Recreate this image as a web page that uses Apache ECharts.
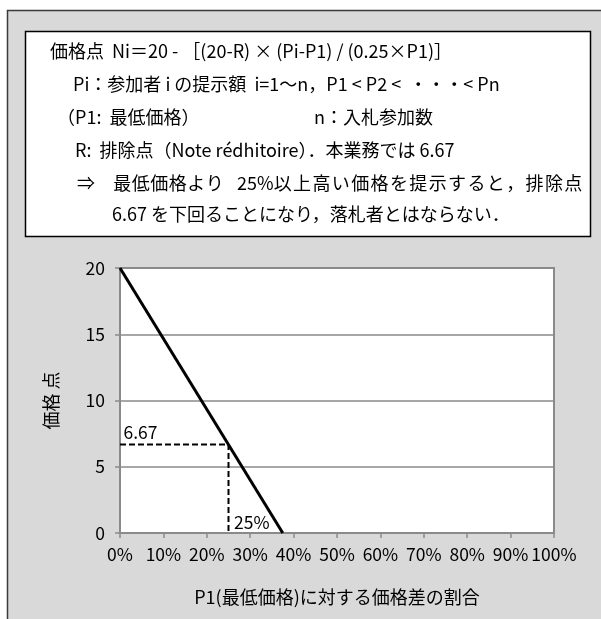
<!DOCTYPE html>
<html>
<head>
<meta charset="utf-8">
<script src="https://cdn.jsdelivr.net/npm/echarts@6/dist/echarts.min.js"></script>
<style>
html,body{margin:0;padding:0;background:#fff;}
#c{width:601px;height:619px;}
</style>
</head>
<body>
<div id="c"></div>
<script>
// ---- data ----
const lineX = [0, 0.375];          // 価格差の割合
const lineY = [20, 0];             // 価格点
const refX = [0, 0.25, 0.25];      // 排除点 guide (dashed)
const refY = [6.67, 6.67, 0];
const refLabels = ['6.67', '', '25%'];
const xTickLabels = ['0%','10%','20%','30%','40%','50%','60%','70%','80%','90%','100%'];
const yTickLabels = ['0','5','10','15','20'];
const boxLines = [
  '価格点  Ni＝20 - ［(20-R) × (Pi-P1) / (0.25×P1)］',
  'Pi：参加者 i の提示額  i=1〜n，P1 < P2 <  ・・・< Pn',
  '（P1:  最低価格）',
  'n：入札参加数',
  'R:  排除点（Note rédhitoire）．本業務では 6.67',
  '⇒',
  '25%',
  '6.67 を下回ることになり，落札者とはならない．'
];
// justified pieces of the wrapped line (each char spread over a span)
const spreadPieces = [
  {text:'最低価格より', x0:113, x1:224, y:183},
  {text:'以上高い価格を提示すると，排除点', x0:273, x1:583, y:183}
];
const xAxisName = 'P1(最低価格)に対する価格差の割合';
const yAxisName = '価格 点';

const FONT = '"Noto Sans CJK JP", sans-serif';
const FS = 18;
const chart = echarts.init(document.getElementById('c'), null, {renderer:'canvas'});

const textPos = [
  [50,51,'left'],[73,84,'left'],[57,117,'left'],[433,117,'right'],[75,150,'left'],
  [77,183,'left'],[237,183,'left'],[112,214,'left']
];
const texts = boxLines.map((t,i)=>({
  type:'text', x:textPos[i][0], y:textPos[i][1], z:5,
  style:{text:t, fill:'#000', font:FS+'px ' + FONT, verticalAlign:'middle', align:textPos[i][2]}
}));
spreadPieces.forEach(p=>{
  const chars = Array.from(p.text);
  const pitch = (p.x1 - p.x0) / chars.length;
  chars.forEach((ch,k)=>{
    texts.push({type:'text', x:p.x0 + pitch*k + pitch/2, y:p.y, z:5,
      style:{text:ch, fill:'#000', font:FS+'px ' + FONT, verticalAlign:'middle', align:'center'}});
  });
});

chart.setOption({
  backgroundColor:'#fff',
  animation:false,
  graphic:[
    {type:'rect', z:-10, shape:{x:7.5,y:10.5,width:620,height:640},
     style:{fill:'#d9d9d9', stroke:'#3a3a3a', lineWidth:1.5}},
    {type:'rect', z:-5, shape:{x:25.5,y:31.5,width:565,height:205},
     style:{fill:'#fff', stroke:'#000', lineWidth:1.5}},
    ...texts
  ],
  grid:{left:120, right:47, top:268, bottom:86, show:true, backgroundColor:'#fff',
        borderColor:'#8a8a8a', borderWidth:2},
  xAxis:{
    type:'value', min:0, max:1, interval:0.1,
    name:xAxisName, nameLocation:'middle', nameGap:55,
    nameTextStyle:{fontSize:18, color:'#000', fontFamily:FONT},
    axisLine:{show:true, lineStyle:{color:'#8a8a8a', width:2}},
    axisTick:{show:true, inside:false, length:5, lineStyle:{color:'#8a8a8a', width:1.5}},
    axisLabel:{margin:13, fontSize:17.5, color:'#000', fontFamily:FONT,
      formatter:(v)=>xTickLabels[Math.round(v*10)]},
    splitLine:{show:false}
  },
  yAxis:{
    type:'value', min:0, max:20, interval:5,
    name:yAxisName, nameLocation:'middle', nameGap:60, nameRotate:90,
    nameTextStyle:{fontSize:18, color:'#000', fontFamily:FONT},
    axisLine:{show:true, lineStyle:{color:'#8a8a8a', width:2}},
    axisTick:{show:true, inside:false, length:5, lineStyle:{color:'#8a8a8a', width:1.5}},
    axisLabel:{margin:15, fontSize:17.5, color:'#000', fontFamily:FONT,
      formatter:(v)=>yTickLabels[Math.round(v/5)]},
    splitLine:{show:true, lineStyle:{color:'#8a8a8a', width:1.5}}
  },
  series:[
    {type:'line', data:lineX.map((x,i)=>[x,lineY[i]]), showSymbol:false, symbol:'none',
     lineStyle:{color:'#000', width:3}, z:4},
    {type:'line', data:refX.map((x,i)=>({
        value:[x,refY[i]],
        label:{show:refLabels[i]!=='', formatter:refLabels[i], position:'right',
               align:'left', verticalAlign:'middle',
               offset: i===0 ? [-2,-12] : [0,-11],
               fontSize:17.5, color:'#000', fontFamily:FONT}
      })),
     symbol:'circle', showSymbol:true, symbolSize:1, itemStyle:{color:'rgba(0,0,0,0)'},
     lineStyle:{color:'#000', width:2, type:[6,3]}, z:3}
  ]
});
</script>
</body>
</html>
